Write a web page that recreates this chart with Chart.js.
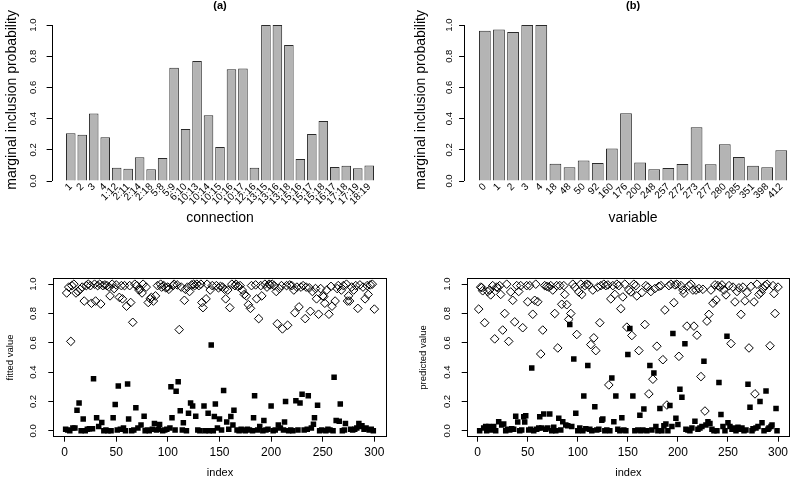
<!DOCTYPE html>
<html><head><meta charset="utf-8">
<script src="https://cdn.jsdelivr.net/npm/chart.js@4.4.1/dist/chart.umd.min.js"></script>
<style>
html,body{margin:0;padding:0;background:#fff;overflow:hidden;}
body{position:relative;width:800px;height:477px;}
.p{position:absolute;}
</style></head><body>
<div class="p" style="left:0;top:0;width:400px;height:240px"><canvas id="ca"></canvas></div>
<div class="p" style="left:400px;top:0;width:420px;height:240px"><canvas id="cb"></canvas></div>
<div class="p" style="left:0;top:240px;width:400px;height:250px"><canvas id="cc"></canvas></div>
<div class="p" style="left:400px;top:240px;width:400px;height:250px"><canvas id="cd"></canvas></div>
<script>
// ---------- data ----------
const connectionLabels = ["1","2","3","4","1:12","2:11","2:14","2:18","5:8","5:9","6:10","10:13","10:14","10:15","10:16","10:17","12:16","13:15","13:16","13:18","15:16","15:17","15:18","16:17","17:18","17:19","18:19"];
const connectionProb = [0.306,0.297,0.432,0.280,0.085,0.079,0.152,0.075,0.147,0.726,0.333,0.769,0.421,0.218,0.716,0.722,0.085,1.0,1.0,0.872,0.141,0.301,0.385,0.090,0.098,0.081,0.100];
const variableLabels = ["0","1","2","3","4","18","48","50","92","160","176","200","248","257","272","273","277","280","285","351","398","412"];
const variableProb = [0.964,0.972,0.955,1.0,1.0,0.111,0.088,0.132,0.115,0.209,0.434,0.118,0.075,0.083,0.109,0.344,0.107,0.235,0.154,0.098,0.088,0.197];
const probTicks = [0,0.2,0.4,0.6,0.8,1.0];
const indexTicks = [0,50,100,150,200,250,300];

// class of each observation (1 = open diamond, 0 = filled square), index 1..300
const fittedClass = ("0101011010"+"1010101010"+"1010110011"+"0101101010"+"1011010101"+
  "0010110101"+"0011010101"+"0110110010"+"1011010101"+"0011010101"+
  "1000110010"+"1010011010"+"1010110101"+"0111001100"+"1010001010"+
  "1010110101"+"0100110101"+"0101010101"+"1000110101"+"1001010110"+
  "1010110101"+"1000110101"+"0110101010"+"1011001101"+"0011010101"+
  "1101010110"+"0101100101"+"0011110101"+"0101010010"+"1011010101").split("").map(Number);
const fittedValue = [
 0.01,0.94,0.005,0.98,0.0,0.61,0.99,0.02,1.0,0.02,
 0.94,0.14,0.95,0.19,0.965,0.0,0.98,0.08,0.885,0.0,
 0.99,0.01,1.0,0.015,0.99,0.87,0.015,0.355,1.0,0.885,
 0.09,0.99,0.03,1.0,0.865,0.057,0.99,0.0,0.995,0.005,
 0.99,0.0,0.98,0.92,0.0,1.0,0.09,0.97,0.18,0.995,
 0.005,0.305,0.91,0.01,0.99,0.90,0.02,0.99,0.0,0.85,
 0.32,0.08,0.99,0.875,0.0,0.74,0.005,1.0,0.158,0.99,
 0.02,0.96,0.965,0.04,0.94,1.0,0.10,0.0,0.98,0.005,
 0.875,0.0,0.9,0.91,0.01,0.885,0.05,0.92,0.005,0.99,
 0.01,0.043,1.0,0.98,0.0,0.99,0.005,0.975,0.01,0.98,
 0.965,0.02,0.30,0.09,0.99,1.0,0.005,0.27,0.995,0.335,
 0.69,0.137,0.98,0.005,0.055,0.89,0.965,0.0,0.98,0.12,
 0.95,0.19,0.995,0.17,1.0,0.99,0.10,1.0,0.005,0.99,
 0.0,1.0,0.875,0.84,0.17,0.0,0.90,1.0,0.12,0.0,
 0.96,0.585,0.99,0.0,0.097,0.183,0.99,0.02,0.975,0.08,
 0.985,0.005,0.98,0.275,0.965,0.90,0.06,0.96,0.01,0.84,
 0.097,1.0,0.04,0.14,0.99,1.0,0.005,0.985,0.0,0.99,
 0.01,0.96,0.005,0.93,0.0,0.92,0.01,0.86,0.005,0.835,
 0.99,0.0,0.09,0.24,0.995,0.90,0.005,0.765,0.03,0.99,
 0.92,0.0,0.07,1.0,0.005,0.98,0.01,1.0,0.995,0.17,
 1.0,0.0,0.99,0.005,0.95,0.73,0.04,0.97,0.02,0.99,
 0.695,0.005,0.06,0.20,0.99,0.72,0.0,0.995,0.005,0.99,
 0.0,0.96,0.805,0.205,0.98,0.005,0.845,0.19,0.98,0.25,
 0.99,0.005,0.765,0.98,0.01,0.24,0.975,0.815,0.02,0.95,
 0.045,0.09,0.97,0.90,0.175,0.795,0.0,0.97,0.005,0.92,
 0.915,0.87,0.0,0.96,0.01,0.795,0.005,0.985,0.85,0.0,
 0.365,0.885,0.07,0.97,0.99,0.065,0.183,0.96,0.0,0.99,
 0.005,0.05,1.0,0.885,0.92,0.885,0.01,0.98,0.005,0.96,
 0.01,0.99,0.02,0.835,0.05,0.995,0.03,0.035,0.98,0.01,
 0.90,0.02,0.99,0.93,0.005,0.995,0.01,1.0,0.0,0.83];

const predictedClass = ("1011101001"+"0110101011"+"0110101010"+"1010101010"+"1010100011"+
  "0100101101"+"0010101010"+"1010101011"+"0101011010"+"1010101010"+
  "1011001010"+"1010110101"+"0110010101"+"1010101010"+"1010101010"+
  "1011010110"+"1001001101"+"1010101010"+"1010101010"+"1010011010"+
  "1010110010"+"1010110110"+"1010101010"+"1010101101"+"0101010100"+
  "1010101010"+"1010101010"+"1010011010"+"1010101010"+"0100111001").split("").map(Number);
const predictedValue = [
 0.83,0.0,0.98,0.977,0.955,0.02,0.737,0.03,0.0,0.95,
 0.03,0.96,0.927,0.005,0.99,0.03,0.627,0.0,0.98,0.977,
 0.062,0.99,0.93,0.04,0.687,0.046,0.80,0.0,1.0,0.01,
 0.61,0.005,0.947,0.015,0.89,0.01,0.743,0.1,0.99,0.06,
 0.95,0.0,0.99,0.005,0.703,0.096,0.06,0.103,0.99,0.88,
 0.005,0.99,0.01,0.428,0.795,0.0,0.89,1.0,0.01,0.88,
 0.02,0.096,0.524,0.02,0.687,0.114,0.99,0.01,0.985,0.02,
 0.98,0.114,0.99,0.0,0.96,0.025,0.80,0.0,0.99,0.565,
 0.085,0.99,0.005,0.863,0.062,0.99,0.93,0.04,0.86,0.035,
 0.76,0.725,0.80,0.03,1.0,0.49,0.98,0.12,0.657,0.0,
 0.947,0.02,1.0,0.93,0.0,0.238,0.99,0.015,1.0,0.446,
 0.995,0.01,0.588,0.0,0.96,0.634,0.165,0.547,0.005,0.98,
 0.01,0.737,0.99,0.073,0.08,1.0,0.0,0.99,0.005,0.995,
 0.313,0.0,0.90,0.36,0.99,0.062,0.93,0.238,1.0,0.01,
 0.99,0.0,0.833,0.09,0.913,0.005,1.0,0.0,0.707,0.52,
 0.96,0.698,0.947,0.65,0.238,1.0,0.0,0.99,0.92,0.005,
 0.547,0.107,0.0,0.943,0.005,0.149,0.725,0.99,0.0,0.98,
 0.252,0.446,0.95,0.005,0.352,0.394,0.97,0.03,0.577,0.0,
 0.985,0.153,0.99,0.0,0.485,0.035,0.824,0.046,0.176,0.0,
 0.99,0.172,1.0,0.03,0.664,0.874,0.995,0.085,1.0,0.043,
 0.508,0.284,0.99,0.229,0.96,0.938,0.593,0.01,0.714,0.005,
 0.99,0.0,1.0,0.02,0.96,0.714,0.066,0.96,0.652,0.01,
 0.97,0.02,0.37,0.03,0.965,0.474,0.135,0.04,0.748,0.062,
 0.794,0.05,0.96,0.01,0.87,0.0,0.995,0.892,0.0,0.99,
 0.33,0.98,0.112,0.995,0.03,0.96,0.0,0.927,0.645,0.055,
 0.99,0.03,0.595,0.01,0.98,0.02,0.879,0.0,0.95,0.025,
 0.975,0.01,0.794,0.02,0.98,0.0,0.886,0.005,0.943,0.318,
 0.565,0.16,0.985,0.0,0.015,0.879,0.252,0.02,1.0,0.03,
 0.93,0.2,0.943,0.055,0.97,0.0,0.99,0.272,1.0,0.01,
 0.02,0.58,0.03,0.04,0.99,0.936,0.80,0.153,0.0,0.98];

// ---------- setup ----------
const FONT = "'Liberation Sans', Arial, Helvetica, sans-serif";
Chart.defaults.font.family = FONT;
Chart.defaults.color = '#000';
Chart.defaults.animation = false;

const panelTitle = {
  id: 'ptitle',
  afterDraw(chart, args, o) {
    if (!o || !o.text) return;
    const ctx = chart.ctx, ca = chart.chartArea;
    ctx.save();
    ctx.font = 'bold 11px ' + FONT;
    ctx.fillStyle = '#000';
    ctx.textAlign = 'center';
    ctx.textBaseline = 'middle';
    ctx.fillText(o.text, (ca.left + ca.right) / 2, o.y);
    ctx.restore();
  }
};
const rAxis = {
  id: 'raxis',
  afterDraw(chart, args, o) {
    if (!o || !o.on) return;
    const ctx = chart.ctx, ca = chart.chartArea, y = chart.scales.y;
    const x = Math.round(ca.left) + 0.5;
    ctx.save();
    ctx.strokeStyle = '#000'; ctx.lineWidth = 1;
    ctx.beginPath();
    ctx.moveTo(x, y.getPixelForValue(probTicks[0]));
    ctx.lineTo(x, y.getPixelForValue(probTicks[probTicks.length - 1]));
    ctx.stroke();
    ctx.restore();
  }
};
const rBox = {
  id: 'rbox',
  afterDraw(chart, args, o) {
    if (!o || !o.on) return;
    const ctx = chart.ctx, a = chart.chartArea;
    const l = Math.round(a.left) + 0.5, t = Math.round(a.top) + 0.5;
    const r = Math.round(a.right) - 0.5, b = Math.round(a.bottom) - 0.5;
    ctx.save();
    ctx.strokeStyle = '#000'; ctx.lineWidth = 1;
    ctx.strokeRect(l, t, r - l, b - t);
    ctx.restore();
  }
};

function barChart(id, labels, values, c) {
  const n = labels.length;
  const total = n * 1.2 + 0.2, ext = 0.04 * total;
  const pos = labels.map((_, i) => 0.7 + 1.2 * i);
  return new Chart(document.getElementById(id), {
    type: 'bar',
    data: { datasets: [{
      data: values.map((v, i) => ({ x: pos[i], y: v })),
      backgroundColor: '#b4b4b4', borderColor: '#2a2a2a', borderWidth: 1,
      barPercentage: 1, categoryPercentage: 1 / 1.2
    }] },
    options: {
      responsive: true, maintainAspectRatio: false, animation: false,
      layout: { padding: { left: 0, right: c.padRight, top: 18.8, bottom: 0 } },
      plugins: { legend: { display: false }, tooltip: { enabled: false },
        ptitle: { text: c.title, y: 6 }, raxis: { on: true } },
      scales: {
        x: {
          type: 'linear', min: -ext, max: total + ext, offset: false,
          grid: { display: false, drawTicks: false }, border: { display: false },
          afterBuildTicks: s => { s.ticks = pos.map(p => ({ value: p })); },
          afterFit: s => { s.height = 59; },
          ticks: { autoSkip: false, minRotation: 45, maxRotation: 45, padding: 0,
            font: { size: 10 }, callback: (v, i) => labels[i] },
          title: { display: true, text: c.xtitle, font: { size: 14 }, padding: { top: 0, bottom: 13.6 } }
        },
        y: {
          min: 0, max: 1.04,
          afterBuildTicks: s => { s.ticks = probTicks.map(v => ({ value: v })); },
          afterFit: s => { s.width = c.left; },
          grid: { display: true, drawOnChartArea: false, drawTicks: true, tickLength: 5, color: '#000' },
          border: { display: false },
          ticks: { minRotation: 90, maxRotation: 90, crossAlign: 'center', padding: c.ytp,
            font: { size: 9.5 }, callback: v => Number(v).toFixed(1) },
          title: { display: true, text: 'marginal inclusion probability', font: { size: 14 },
            padding: { top: c.ytitle, bottom: 0 } }
        }
      }
    },
    plugins: [panelTitle, rAxis]
  });
}

function scatterChart(id, cls, vals, c) {
  const open = [], filled = [];
  vals.forEach((v, i) => (cls[i] ? open : filled).push({ x: i + 1, y: v }));
  return new Chart(document.getElementById(id), {
    type: 'scatter',
    data: { datasets: [
      { data: open, pointStyle: 'rectRot', pointRadius: 4.3, pointBorderWidth: 1,
        pointBorderColor: '#000', pointBackgroundColor: 'rgba(0,0,0,0)' },
      { data: filled, pointStyle: 'rect', pointRadius: 3.9, pointBorderWidth: 0,
        pointBorderColor: '#000', pointBackgroundColor: '#000' }
    ] },
    options: {
      responsive: true, maintainAspectRatio: false, animation: false,
      layout: { padding: { left: 0, right: c.padRight, top: 38.3, bottom: 0 } },
      plugins: { legend: { display: false }, tooltip: { enabled: false }, rbox: { on: true } },
      scales: {
        x: {
          type: 'linear', min: -10.96, max: 311.96,
          afterBuildTicks: s => { s.ticks = indexTicks.map(v => ({ value: v })); },
          afterFit: s => { s.height = 53.3; },
          grid: { display: true, drawOnChartArea: false, drawTicks: true, tickLength: 5, color: '#000' },
          border: { display: false },
          ticks: { maxRotation: 0, padding: 4, font: { size: 12 } },
          title: { display: true, text: 'index', font: { size: 11 }, padding: { top: 0, bottom: 10.1 } }
        },
        y: {
          min: -0.04, max: 1.04,
          afterBuildTicks: s => { s.ticks = probTicks.map(v => ({ value: v })); },
          afterFit: s => { s.width = c.left; },
          grid: { display: true, drawOnChartArea: false, drawTicks: true, tickLength: 5, color: '#000' },
          border: { display: false },
          ticks: { minRotation: 90, maxRotation: 90, crossAlign: 'center', padding: c.ytp,
            font: { size: 9.5 }, callback: v => Number(v).toFixed(1) },
          title: { display: true, text: c.ytitle, font: { size: 9.5 }, padding: { top: c.ytpad, bottom: 0 } }
        }
      }
    },
    plugins: [rBox]
  });
}

barChart('ca', connectionLabels, connectionProb,
  { title: '(a)', xtitle: 'connection', left: 51.6, padRight: 11.6, ytp: 6.7, ytitle: 3.6 });
barChart('cb', variableLabels, variableProb,
  { title: '(b)', xtitle: 'variable', left: 64.1, padRight: 18, ytp: 3.3, ytitle: 12.6 });
scatterChart('cc', fittedClass, fittedValue,
  { ytitle: 'fitted value', left: 53.3, padRight: 13.3, ytp: 8.4, ytpad: 4.3 });
scatterChart('cd', predictedClass, predictedValue,
  { ytitle: 'predicted value', left: 66.7, padRight: 10, ytp: 8.2, ytpad: 17.3 });
</script>
</body></html>
